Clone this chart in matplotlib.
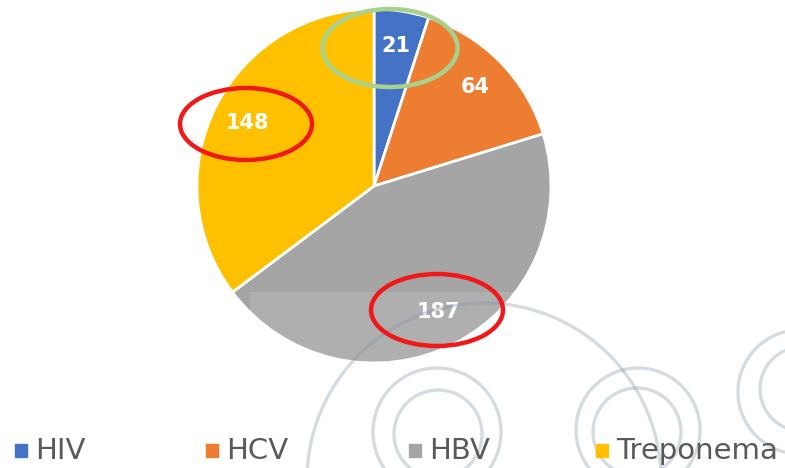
import matplotlib
matplotlib.use("Agg")
import matplotlib.pyplot as plt
from matplotlib.patches import Ellipse, Rectangle, Circle

labels = ["HIV", "HCV", "HBV", "Treponema"]
values = [21, 64, 187, 148]
colors = ["#4472C4", "#ED7D31", "#A5A5A5", "#FFC000"]

W, H = 785, 468
fig = plt.figure(figsize=(W / 100, H / 100), dpi=100)
ax = fig.add_axes([0, 0, 1, 1])

wedges, texts, autotexts = ax.pie(
    values, colors=colors, startangle=90, counterclock=False,
    center=(374, H - 186), radius=177, frame=True,
    autopct=lambda p: "{:d}".format(round(p * sum(values) / 100)),
    pctdistance=0.8,
    wedgeprops=dict(edgecolor="white", linewidth=2),
    textprops=dict(color="white", fontsize=15, fontweight="bold"),
)
ax.set_xlim(0, W)
ax.set_ylim(0, H)
ax.set_aspect("equal")
ax.axis("off")

# lighter band from the scan over the lower part of the pie
ax.add_patch(Rectangle((250, H - 365), 320, 73, color="white", alpha=0.12, lw=0, zorder=3))

# faint watermark rings (x, y from top, radius)
rings = [(484, 480, 177), (437, 432, 64), (438, 434, 44),
         (638, 430, 62), (637, 432, 44), (800, 392, 62), (802, 389, 42)]
for cx, cy, r in rings:
    ax.add_patch(Circle((cx, H - cy), r, fill=False, ec="#7E93A3", lw=2.4,
                        alpha=0.32, zorder=4))

# highlight ellipses
ax.add_patch(Ellipse((246, H - 124), 132, 72, fill=False, ec="#F01818", lw=3.2, zorder=6))
ax.add_patch(Ellipse((437, H - 310), 132, 72, fill=False, ec="#F01818", lw=3.2, zorder=6))
ax.add_patch(Ellipse((390, H - 48), 135, 78, fill=False, ec="#A9D18E", lw=3.2, zorder=6))

# legend
legend_x = [15, 206, 409, 596]
for x, lab, c in zip(legend_x, labels, colors):
    ax.add_patch(Rectangle((x, H - 457), 12, 13, color=c, zorder=7))
    ax.text(x + 20, H - 451, lab, fontsize=21, color="#595959", va="center", ha="left", zorder=7)

fig.savefig("out.png", dpi=100)
